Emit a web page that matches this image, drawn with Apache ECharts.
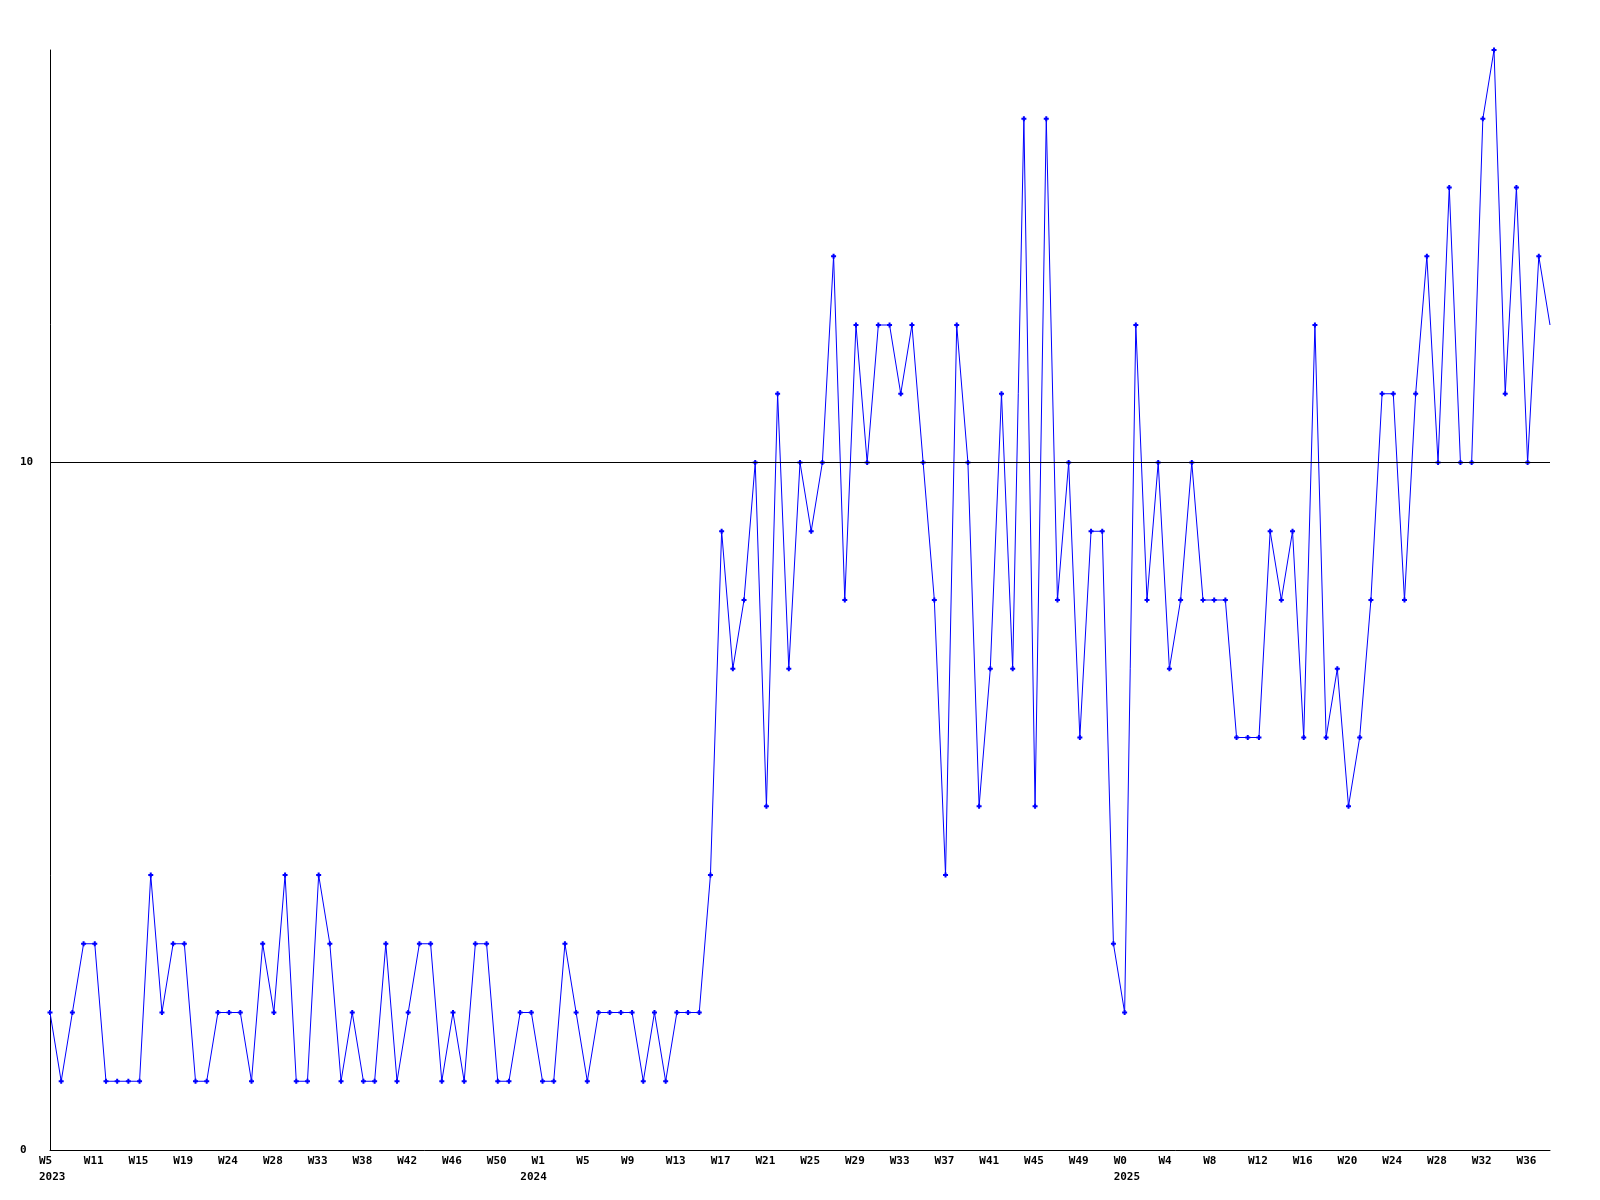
<!DOCTYPE html>
<html>
<head>
<meta charset="utf-8">
<script src="https://cdn.jsdelivr.net/npm/echarts@6/dist/echarts.min.js"></script>
<style>
html,body{margin:0;padding:0;background:#fff;}
#c{width:1600px;height:1200px;}
</style>
</head>
<body>
<div id="c"></div>
<script>
// Week tick labels shown every 4th point
const weekLabels = ["W5","W11","W15","W19","W24","W28","W33","W38","W42","W46","W50",
  "W1","W5","W9","W13","W17","W21","W25","W29","W33","W37","W41","W45","W49",
  "W0","W4","W8","W12","W16","W20","W24","W28","W32","W36"];

// Year labels and the point index where each year begins
const yearLabels = ["2023","2024","2025"];
const yearStartIndex = [0, 43, 96];

// Weekly values
const values = [
  2,1,2,3,3,1,1,1,1,4,
  2,3,3,1,1,2,2,2,1,3,
  2,4,1,1,4,3,1,2,1,1,
  3,1,2,3,3,1,2,1,3,3,
  1,1,2,2,1,1,3,2,1,2,
  2,2,2,1,2,1,2,2,2,4,
  9,7,8,10,5,11,7,10,9,10,
  13,8,12,10,12,12,11,12,10,8,
  4,12,10,5,7,11,7,15,5,15,
  8,10,6,9,9,3,2,12,8,10,
  7,8,10,8,8,8,6,6,6,9,
  8,9,6,12,6,7,5,6,8,11,
  11,8,11,13,10,14,10,10,15,16,
  11,14,10,13,12
];

const yTickValues = [0, 10];

const categories = values.map((v, i) => String(i));
const seriesData = values.map((v, i) => i === values.length - 1 ? {value: v, symbol: 'none'} : v);

const font = "'DejaVu Sans Mono', 'Liberation Mono', monospace";
const labelBase = {
  color: '#000',
  fontFamily: font,
  fontWeight: 'bold',
  fontSize: 11,
  align: 'left',
  padding: [0, 0, 0, -11]
};
const chart = echarts.init(document.getElementById('c'), null, {renderer: 'canvas'});
chart.setOption({
  animation: false,
  backgroundColor: '#ffffff',
  grid: {left: 50, right: 50, top: 50, bottom: 50, containLabel: false},
  xAxis: [{
    type: 'category',
    data: categories,
    boundaryGap: false,
    axisLine: {show: true, lineStyle: {color: '#000', width: 1}},
    axisTick: {show: false},
    splitLine: {show: false},
    axisLabel: Object.assign({}, labelBase, {
      interval: 3,
      margin: 6,
      formatter: function (v, idx) { return weekLabels[idx / 4] || ''; }
    })
  }, {
    type: 'category',
    data: categories,
    boundaryGap: false,
    position: 'bottom',
    axisLine: {show: false},
    axisTick: {show: false},
    splitLine: {show: false},
    axisLabel: Object.assign({}, labelBase, {
      interval: function (idx) { return yearStartIndex.indexOf(idx) >= 0; },
      margin: 22,
      formatter: function (v, idx) {
        const k = yearStartIndex.indexOf(idx);
        return k >= 0 ? yearLabels[k] : '';
      }
    })
  }],
  yAxis: {
    type: 'value',
    min: 0,
    max: 16,
    interval: 10,
    axisLine: {show: true, lineStyle: {color: '#000', width: 1}},
    axisTick: {show: false},
    splitLine: {show: false},
    axisLabel: {
      showMaxLabel: false,
      margin: 30,
      align: 'left',
      color: '#000',
      fontFamily: font,
      fontWeight: 'bold',
      fontSize: 11,
      formatter: function (v) { return yTickValues.indexOf(v) >= 0 ? String(v) : ''; }
    }
  },
  series: [{
    type: 'line',
    xAxisIndex: 0,
    data: seriesData,
    symbol: 'path://M1.5,0H3.5V1.5H5V3.5H3.5V5H1.5V3.5H0V1.5H1.5Z',
    symbolSize: 5,
    showAllSymbol: true,
    clip: false,
    itemStyle: {color: '#0000ff'},
    lineStyle: {color: '#0000ff', width: 1},
    markLine: {
      silent: true,
      symbol: 'none',
      label: {show: false},
      lineStyle: {color: '#000', width: 1, type: 'solid'},
      data: [{yAxis: 10}]
    }
  }]
});
</script>
</body>
</html>
